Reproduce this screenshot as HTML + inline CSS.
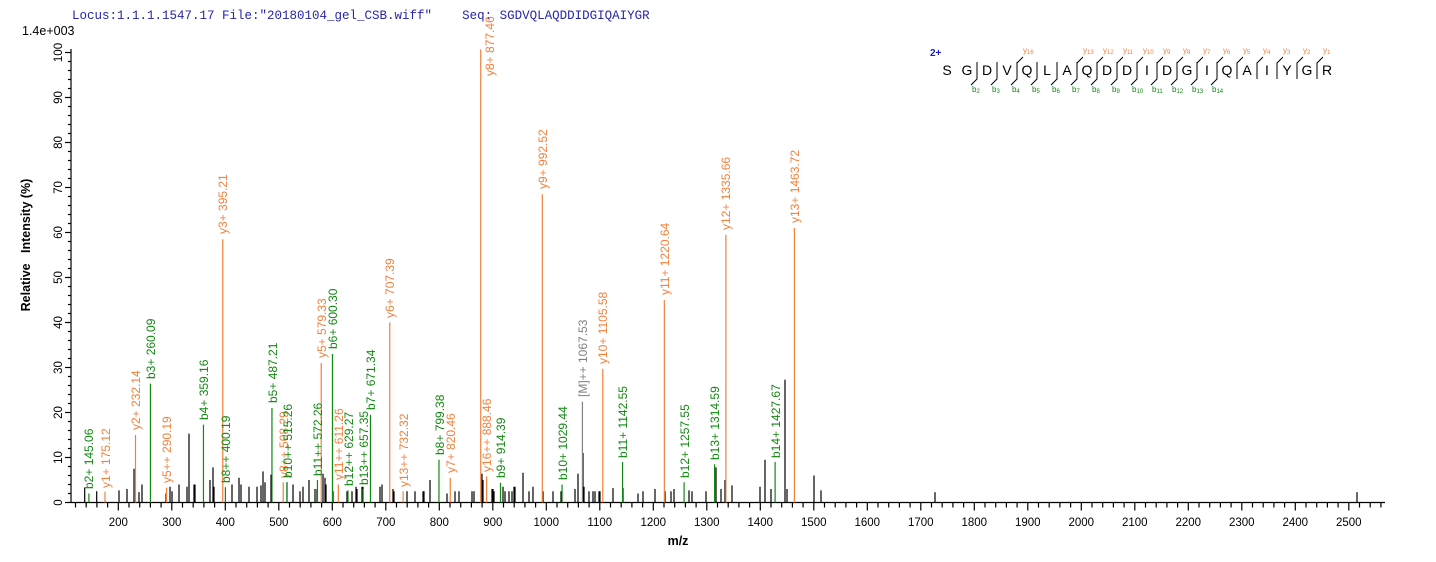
<!DOCTYPE html>
<html><head><meta charset="utf-8"><style>
html,body{margin:0;padding:0;background:#fff;}
svg{display:block;font-family:"Liberation Sans",Arial,sans-serif;}
</style></head><body>
<svg id="s" width="1436" height="562" xmlns="http://www.w3.org/2000/svg">
<text x="72" y="19" font-family="Liberation Mono,monospace" font-size="12.5" fill="#2626a8" xml:space="preserve">Locus:1.1.1.1547.17 File:"20180104_gel_CSB.wiff"    Seq: SGDVQLAQDDIDGIQAIYGR</text>
<text x="22" y="35" font-size="12.5" fill="#000">1.4e+003</text>
<text transform="translate(30,245) rotate(-90)" font-size="12.5" font-weight="bold" text-anchor="middle" xml:space="preserve">Relative   Intensity (%)</text>
<text x="678" y="545" font-size="12.5" font-weight="bold" text-anchor="middle">m/z</text>
<g id="axes" stroke="#000" stroke-width="1.2">
<line x1="71" y1="49" x2="71" y2="502.5"/>
<line x1="71" y1="502.5" x2="1385" y2="502.5"/>
</g>
<g id="ylab" font-size="11.5" text-anchor="middle"></g>
<g id="xlab" font-size="11.5" text-anchor="middle"></g>
<g id="black" stroke="#000" stroke-width="1.2"></g>
<g id="ann" stroke-width="1.2"></g>
<g font-size="12">
<g fill="#f0803c">
<text transform="translate(110,488) rotate(-90)">y1+ 175.12</text>
<text transform="translate(140,430) rotate(-90)">y2+ 232.14</text>
<text transform="translate(171,483) rotate(-90)">y5++ 290.19</text>
<text transform="translate(227,234) rotate(-90)">y3+ 395.21</text>
<text transform="translate(288,478) rotate(-90)">y8++ 508.29</text>
<text transform="translate(326,358) rotate(-90)">y5+ 579.33</text>
<text transform="translate(343,480) rotate(-90)">y11++ 611.26</text>
<text transform="translate(394,318) rotate(-90)">y6+ 707.39</text>
<text transform="translate(408,487) rotate(-90)">y13++ 732.32</text>
<text transform="translate(455,473) rotate(-90)">y7+ 820.46</text>
<text transform="translate(494,76) rotate(-90)">y8+ 877.46</text>
<text transform="translate(491,472) rotate(-90)">y16++ 888.46</text>
<text transform="translate(547,189) rotate(-90)">y9+ 992.52</text>
<text transform="translate(607,364) rotate(-90)">y10+ 1105.58</text>
<text transform="translate(669,295) rotate(-90)">y11+ 1220.64</text>
<text transform="translate(730,230) rotate(-90)">y12+ 1335.66</text>
<text transform="translate(799,223) rotate(-90)">y13+ 1463.72</text>
</g>
<g fill="#118811">
<text transform="translate(93,489) rotate(-90)">b2+ 145.06</text>
<text transform="translate(155,379) rotate(-90)">b3+ 260.09</text>
<text transform="translate(208,420) rotate(-90)">b4+ 359.16</text>
<text transform="translate(230,483) rotate(-90)">b8++ 400.19</text>
<text transform="translate(277,403) rotate(-90)">b5+ 487.21</text>
<text transform="translate(292,478) rotate(-90)">b10++ 515.26</text>
<text transform="translate(322,476) rotate(-90)">b11++ 572.26</text>
<text transform="translate(337,349) rotate(-90)">b6+ 600.30</text>
<text transform="translate(353,486) rotate(-90)">b12++ 629.27</text>
<text transform="translate(368,485) rotate(-90)">b13++ 657.35</text>
<text transform="translate(375,410) rotate(-90)">b7+ 671.34</text>
<text transform="translate(444,455) rotate(-90)">b8+ 799.38</text>
<text transform="translate(505,478) rotate(-90)">b9+ 914.39</text>
<text transform="translate(567,480) rotate(-90)">b10+ 1029.44</text>
<text transform="translate(627,458) rotate(-90)">b11+ 1142.55</text>
<text transform="translate(689,478) rotate(-90)">b12+ 1257.55</text>
<text transform="translate(719,460) rotate(-90)">b13+ 1314.59</text>
<text transform="translate(780,458) rotate(-90)">b14+ 1427.67</text>
</g>
<text fill="#808080" transform="translate(587,397) rotate(-90)">[M]++ 1067.53</text>
</g>
<text x="930" y="56" font-size="10" font-weight="bold" fill="#1a1acc">2+</text>
<g id="seq" font-size="14" text-anchor="middle"></g>
<g id="seqlines" stroke="#000" stroke-width="1" fill="none"></g>
<g id="seqlab" font-size="8"></g>
</svg>
<script>
var NS="http://www.w3.org/2000/svg";
function el(p,t,a,txt){var e=document.createElementNS(NS,t);for(var k in a)e.setAttribute(k,a[k]);if(txt!==undefined)e.textContent=txt;document.getElementById(p).appendChild(e);return e;}
function X(m){return 118.3+0.535*(m-200);}
function Y(p){return 502.5-4.5*p;}
for(var p=0;p<=100;p+=2){var maj=p%10==0;el("axes","line",{x1:71-(maj?6:3),y1:Y(p),x2:71,y2:Y(p)});}
var yl=[0,10,20,30,40,50,60,70,80,90,100];
yl.forEach(function(v){el("ylab","text",{transform:"translate(62,"+Y(v)+") rotate(-90)"},String(v));});
for(var m=120;m<=2560;m+=20){var maj=m%100==0;el("axes","line",{x1:X(m),y1:502.5,x2:X(m),y2:502.5+(maj?8:5)});}
for(var m=200;m<=2500;m+=100){el("xlab","text",{x:X(m),y:526},String(m));}
var bk=[[84.7,3.3],[96.7,2.5],[119,2.7],[127,3],[134,7.5],[139,2.3],[142,4],[166,2],[170,3.5],[172,2.5],[179,4],[187,3.5],[189,15.3],[194,4],[195,4],[210,5],[213,7.8],[214,3.5],[232,4],[239,5.5],[241,4],[249,3.5],[257,3.5],[261,3.8],[263,6.9],[265,4.5],[271,6.2],[287,4.5],[293,4],[300,2.5],[303,3.5],[309,5],[315,3],[317,3],[323,6.4],[325,5.5],[326,4],[333,2.5],[347,2.5],[352,2.5],[356,3.5],[357,3],[362,3.5],[363,3.5],[380,3.5],[382,4],[393,3],[394,2.5],[407,2.5],[415,2.5],[423,2.5],[424,2.5],[430,5],[447,2],[455,2.5],[459,2.5],[472,2.5],[474,2.5],[482,6.4],[483,5],
[492,3],[493,3],[494,2.5],[503,3.5],[505,2.5],[509,2.5],[512,2.5],[514,3.5],[515,3.5],[523,6.6],[529,2.5],[533,3.5],[543,2.5],[553,2.5],[561,2.5],[575,3],[578,6.4],[583,11],[584,3.5],[589,2.5],[593,2.5],[595,2.5],[599,2.5],[600,2.5],[613,3.2],[623,3.2],[638,2],[643,2.5],[655,3],[665,2.5],[671,2.5],[674,3],[689,2.7],[692,2.5],[706,2.5],[716,7.8],[721,3],[725,5],[732,3.8],[760,3.5],[765,9.5],[771,3],[785,27.3],[787,3],[814,6],[821,2.7],[935,2.3],[1357,2.3]];
bk.forEach(function(b){el("black","line",{x1:b[0],y1:502.5,x2:b[0],y2:Y(b[1])});});
var O="#f0803c",G="#118811",Gr="#808080";
var an=[[145.06,2,G],[175.12,2.4,O],[232.14,15,O],[260.09,26.4,G],[290.19,3.3,O],[359.16,17.3,G],[395.21,58.5,O],[400.19,3.4,G],[487.21,21,G],[508.29,4.5,O],[515.26,4.5,G],[572.26,5,G],[579.33,31,O],[600.30,33,G],[611.26,4,O],[629.27,2.7,G],[657.35,3,G],[671.34,19.5,G],[707.39,40,O],[732.32,2.5,O],[799.38,9.5,G],[820.46,5.5,O],[877.46,100.7,O],[888.46,5.8,O],[914.39,4.4,G],[992.52,68.5,O],[1029.44,4,G],[1067.53,22.4,Gr],[1105.58,29.7,O],[1142.55,9,G],[1220.64,45,O],[1257.55,4.5,G],[1314.59,8.5,G],[1335.66,59.5,O],[1427.67,9,G],[1463.72,61,O]];
an.forEach(function(a){el("ann","line",{x1:X(a[0]),y1:502.5,x2:X(a[0]),y2:Y(a[1]),stroke:a[2]});});
var seq="SGDVQLAQDDIDGIQAIYGR";
for(var i=0;i<20;i++){el("seq","text",{x:947+20*i,y:75},seq[i]);}
function dx(i){return 947+20*i+10;}
for(var k=2;k<=14;k++){var x=dx(k-1);el("seqlines","path",{d:"M"+x+" 62 L"+x+" 79 L"+(x-6)+" 85"});
 var t=el("seqlab","text",{x:x-5,y:92,fill:"#118811"},"b");var s=document.createElementNS(NS,"tspan");s.setAttribute("font-size","6");s.setAttribute("dy","1");s.textContent=k;t.appendChild(s);}
var ys=[16,13,12,11,10,9,8,7,6,5,4,3,2,1];
ys.forEach(function(k){var x=dx(19-k);el("seqlines","path",{d:"M"+(x+6)+" 57 L"+x+" 63 L"+x+" 79"});
 var t=el("seqlab","text",{x:x+6,y:53,fill:"#f0803c"},"y");var s=document.createElementNS(NS,"tspan");s.setAttribute("font-size","6");s.setAttribute("dy","1");s.textContent=k;t.appendChild(s);});
</script>
</body></html>
